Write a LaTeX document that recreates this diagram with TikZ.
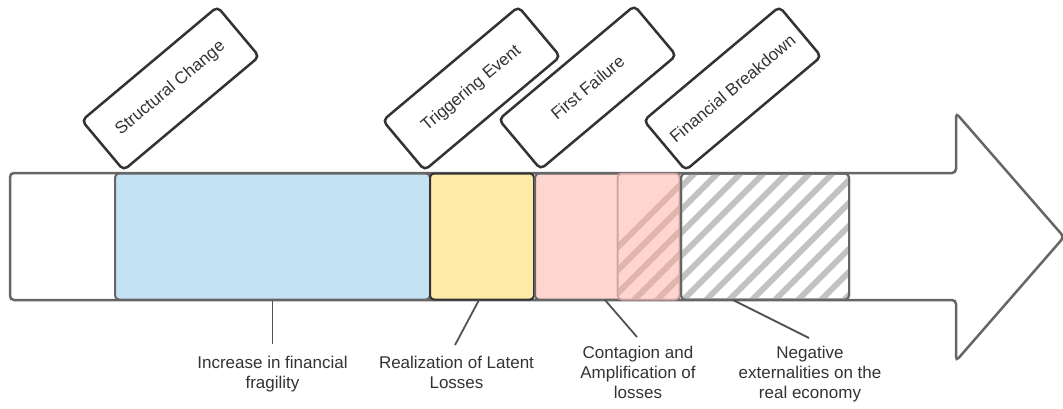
\documentclass[tikz,border=0pt]{standalone}
\usepackage{fontspec}
\setmainfont{Liberation Sans}
\definecolor{edge}{HTML}{666666}
\definecolor{ink}{HTML}{333333}
\definecolor{bluef}{HTML}{C3E3F5}
\definecolor{yellowf}{HTML}{FFEBA8}
\definecolor{pinkf}{HTML}{FFD5D0}
\definecolor{pinkh}{HTML}{E2B4AE}
\definecolor{pinke}{HTML}{CFA39D}
\definecolor{grayh}{HTML}{C2C2C2}
\tikzset{
  stagebox/.style={draw=ink, line width=2.5pt, rounded corners=5pt, minimum width=177pt,
    minimum height=65pt, rotate=40, fill=white, text=ink,
    font=\fontsize{17}{20}\selectfont, inner sep=0pt},
  lbl/.style={align=center, text=ink, font=\fontsize{17}{20}\selectfont, inner sep=0pt},
  seg/.style={line width=2pt, rounded corners=4pt, inner sep=0pt, outer sep=0pt, minimum height=126pt},
  conn/.style={draw=ink!85, line width=1.8pt},
  stripe/.style={line width=5.7pt}
}
\begin{document}
\begin{tikzpicture}[x=1pt,y=-1pt]
\useasboundingbox (0,0) rectangle (1063,408);
% big arrow
\draw[edge, line width=2.5pt, rounded corners=4pt, fill=white]
  (10,173) -- (956,173) -- (956,113) -- (1064,237) -- (956,361) -- (956,300) -- (10,300) -- cycle;
% segments
\node[seg, draw=edge, fill=bluef, minimum width=315pt] (inc) at (272.5,236.5) {};
\node[seg, draw=ink, fill=yellowf, minimum width=104pt] (real) at (482,236.5) {};
\node[seg, draw=edge, fill=pinkf, minimum width=145pt] (cont) at (607.5,236.5) {};
\node[seg, draw=pinke, fill=pinkf, minimum width=62pt, line width=1.5pt] (conth) at (648.5,236.5) {};
\begin{scope}
  \clip[rounded corners=4pt] (conth.south west) rectangle (conth.north east);
  \foreach \k in {0,...,8} \draw[pinkh, stripe] (560+\k*23,305) -- ++(140,-140);
\end{scope}
\draw[pinke, line width=1.5pt, rounded corners=4pt] (conth.south west) rectangle (conth.north east);
\node[seg, draw=edge, fill=white, minimum width=168pt] (neg) at (765,236.5) {};
\begin{scope}
  \clip[rounded corners=4pt] (neg.south west) rectangle (neg.north east);
  \foreach \k in {0,...,14} \draw[grayh, stripe] (540+\k*23,305) -- ++(140,-140);
\end{scope}
\draw[edge, line width=2pt, rounded corners=4pt] (neg.south west) rectangle (neg.north east);
% stage boxes
\node[stagebox] (sc) at (170.5,88.5) {Structural Change};
\node[stagebox] (te) at (471.5,88.5) {Triggering Event};
\node[stagebox] (ff) at (587.5,87.5) {First Failure};
\node[stagebox] (fb) at (732.5,88.5) {Financial Breakdown};
% bottom labels
\node[lbl] (l1) at (272.5,374) {Increase in financial\strut\\fragility\strut};
\node[lbl] (l2) at (456.5,374) {Realization of Latent\strut\\Losses\strut};
\node[lbl] (l3) at (638,374) {Contagion and\strut\\Amplification of\strut\\losses\strut};
\node[lbl] (l4) at (810,374) {Negative\strut\\externalities on the\strut\\real economy\strut};
\coordinate (e1) at (272.5,344);
\coordinate (e2) at (455,345);
\coordinate (e3) at (637,337);
\coordinate (e4) at (809,338);
\coordinate (s4) at (733,300);
\coordinate (s2) at (479,300);
\coordinate (s3) at (605,300);
\draw[conn] (inc.south) -- (e1);
\draw[conn] (s2) -- (e2);
\draw[conn] (s3) -- (e3);
\draw[conn] (s4) -- (e4);
\end{tikzpicture}
\end{document}
